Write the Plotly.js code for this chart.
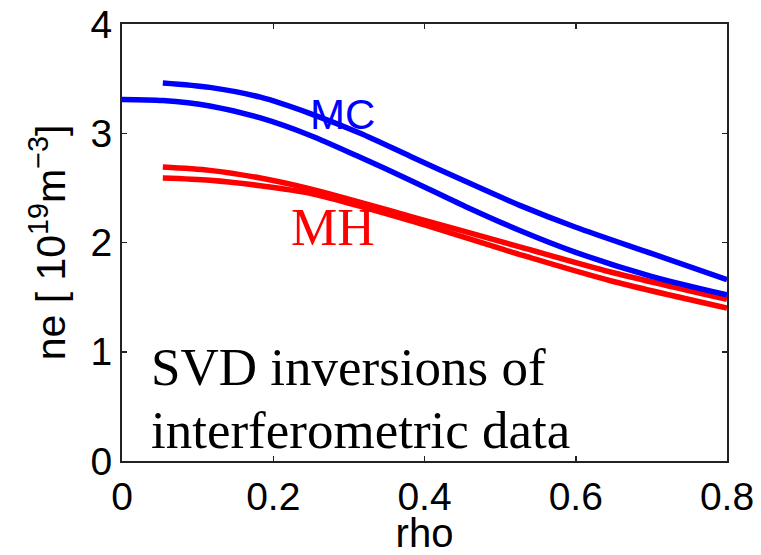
<!DOCTYPE html>
<html>
<head>
<meta charset="utf-8">
<script src="https://cdn.plot.ly/plotly-3.0.1.min.js"></script>
<style>html,body{margin:0;padding:0;background:#fff;}#chart{width:761px;height:555px;}</style>
</head>
<body>
<div id="chart"></div>
<script>
// rho positions and densities (1e19 m^-3)
const rhoMC1 = [0.054, 0.116, 0.183, 0.249, 0.315, 0.381, 0.454, 0.526, 0.6, 0.7, 0.8];
const neMC1  = [3.46, 3.42, 3.33, 3.18, 3.00, 2.79, 2.56, 2.34, 2.14, 1.90, 1.66];

const rhoMC2 = [0.0, 0.054, 0.116, 0.183, 0.249, 0.315, 0.381, 0.454, 0.526, 0.6, 0.7, 0.8];
const neMC2  = [3.31, 3.30, 3.25, 3.14, 2.98, 2.78, 2.57, 2.33, 2.11, 1.91, 1.69, 1.52];

const rhoMH1 = [0.054, 0.116, 0.183, 0.249, 0.381, 0.526, 0.646, 0.8];
const neMH1  = [2.69, 2.66, 2.59, 2.49, 2.24, 1.96, 1.73, 1.48];

const rhoMH2 = [0.054, 0.116, 0.183, 0.249, 0.381, 0.526, 0.646, 0.8];
const neMH2  = [2.59, 2.57, 2.52, 2.45, 2.20, 1.89, 1.65, 1.40];

const xTicks = [0, 0.2, 0.4, 0.6, 0.8];
const xTickLabels = ['0', '0.2', '0.4', '0.6', '0.8'];
const yTicks = [0, 1, 2, 3, 4];
const yTickLabels = ['0', '1', '2', '3', '4'];

const BLUE = '#0000ff', RED = '#ff0000';
function line(x, y, c) {
  return {x: x, y: y, type: 'scatter', mode: 'lines', line: {color: c, width: 5.5, shape: 'spline', smoothing: 0.8}, hoverinfo: 'skip'};
}
const data = [
  line(rhoMH1, neMH1, RED),
  line(rhoMH2, neMH2, RED),
  line(rhoMC1, neMC1, BLUE),
  line(rhoMC2, neMC2, BLUE)
];

const sans = 'Liberation Sans, Arial, Helvetica, sans-serif';
const serif = 'Liberation Serif, Times New Roman, serif';

const layout = {
  width: 761, height: 555,
  margin: {l: 122, r: 34, t: 24, b: 94},
  paper_bgcolor: '#fff', plot_bgcolor: '#fff',
  showlegend: false,
  xaxis: {
    range: [0, 0.8], tickvals: xTicks, ticktext: xTickLabels,
    ticks: 'inside', ticklen: 5, tickwidth: 1.5, tickcolor: '#222',
    showline: true, linecolor: '#222', linewidth: 2, mirror: 'ticks',
    showgrid: false, zeroline: false,
    tickfont: {family: sans, size: 39, color: '#000'},
    title: {text: 'rho', font: {family: sans, size: 40, color: '#000'}, standoff: 0}
  },
  yaxis: {
    range: [0, 4], tickvals: yTicks, ticktext: yTickLabels,
    ticks: 'inside', ticklen: 5, tickwidth: 1.5, tickcolor: '#222',
    showline: true, linecolor: '#222', linewidth: 2, mirror: 'ticks',
    showgrid: false, zeroline: false,
    tickfont: {family: sans, size: 39, color: '#000'},
    title: {text: 'ne [ 10<sup>19</sup>m<sup>\u22123</sup>]', font: {family: sans, size: 41, color: '#000'}, standoff: 12}
  },
  annotations: [
    {xref: 'paper', yref: 'paper', x: 0.364, y: 0.792, text: 'MC', showarrow: false,
     xanchor: 'center', yanchor: 'middle', font: {family: sans, size: 42, color: BLUE}},
    {xref: 'paper', yref: 'paper', x: 0.349, y: 0.535, text: 'MH', showarrow: false,
     xanchor: 'center', yanchor: 'middle', font: {family: serif, size: 52, color: RED}},
    {xref: 'paper', yref: 'paper', x: 0.044, y: 0.215, text: 'SVD inversions of', showarrow: false,
     xanchor: 'left', yanchor: 'middle', font: {family: serif, size: 53, color: '#000'}},
    {xref: 'paper', yref: 'paper', x: 0.044, y: 0.071, text: 'interferometric data', showarrow: false,
     xanchor: 'left', yanchor: 'middle', font: {family: serif, size: 53, color: '#000'}}
  ]
};

Plotly.newPlot('chart', data, layout, {displayModeBar: false, staticPlot: true});
</script>
</body>
</html>
